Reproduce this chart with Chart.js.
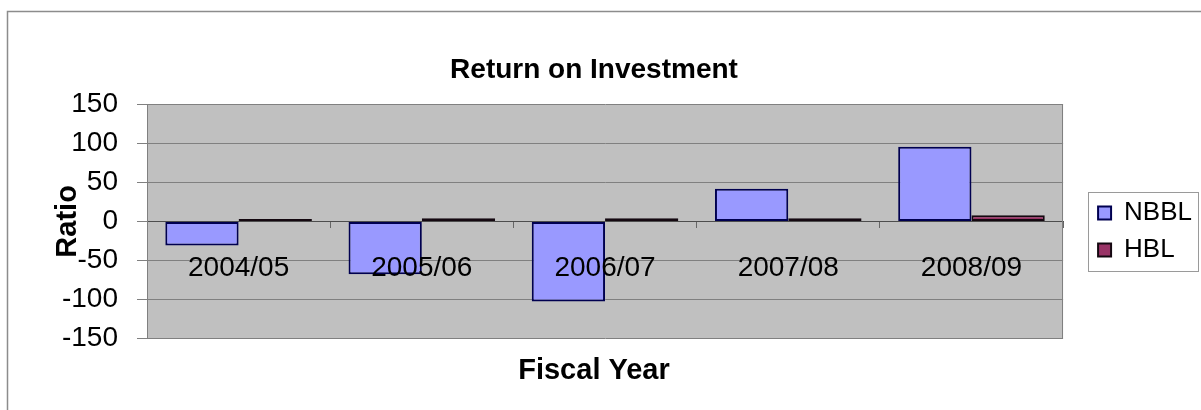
<!DOCTYPE html>
<html>
<head>
<meta charset="utf-8">
<title>Return on Investment</title>
<script src="https://cdn.jsdelivr.net/npm/chart.js@4/dist/chart.umd.min.js"></script>
<style>
  html, body { margin: 0; padding: 0; background: #fff; }
</style>
</head>
<body>
<canvas id="roiChart" width="1201" height="410"></canvas>
<script>
// Fiscal years and return on investment ratios for both banks
const years = ["2004/05", "2005/06", "2006/07", "2007/08", "2008/09"];
const nbblRatio = [-31, -68, -103, 42, 96];
const hblRatio = [3, 4, 4, 4, 8];
const ratioTicks = [-150, -100, -50, 0, 50, 100, 150];

Chart.defaults.font.family = "Arial, 'Liberation Sans', sans-serif";
Chart.defaults.color = "#000";

// White page with outer frame, grey plot area behind the grid
const chartFrame = {
    id: "chartFrame",
    beforeDraw(chart) {
        const ctx = chart.ctx;
        const a = chart.chartArea;
        ctx.save();
        ctx.fillStyle = "#fff";
        ctx.fillRect(0, 0, chart.width, chart.height);
        ctx.strokeStyle = "#8c8c8c";
        ctx.lineWidth = 1.5;
        ctx.strokeRect(7.5, 11.5, chart.width + 10, chart.height + 10);
        ctx.fillStyle = "#c0c0c0";
        ctx.fillRect(a.left, a.top, a.right - a.left, a.bottom - a.top);
        ctx.restore();
    },
    beforeDatasetsDraw(chart) {
        const ctx = chart.ctx;
        const a = chart.chartArea;
        ctx.save();
        ctx.strokeStyle = "#808080";
        ctx.lineWidth = 1;
        ctx.beginPath();
        ctx.moveTo(Math.round(a.right) - 0.5, a.top);
        ctx.lineTo(Math.round(a.right) - 0.5, a.bottom);
        ctx.stroke();
        ctx.restore();
    }
};

// Moves the legend away from the plot and puts a box round it
const legendBox = {
    id: "legendBox",
    afterLayout(chart) {
        const lg = chart.legend;
        lg.left += 24;
        lg.right += 24;
        lg.top += 10;
        lg.bottom += 10;
    },
    afterDraw(chart) {
        const hb = chart.legend.legendHitBoxes;
        if (!hb || !hb.length) return;
        const left = Math.min(...hb.map(b => b.left)) - 10;
        const right = Math.max(...hb.map(b => b.left + b.width)) + 6;
        const top = hb[0].top - 8;
        const last = hb[hb.length - 1];
        const bottom = last.top + last.height + 8;
        const ctx = chart.ctx;
        ctx.save();
        ctx.strokeStyle = "#9a9a9a";
        ctx.lineWidth = 1;
        ctx.strokeRect(Math.round(left) + 0.5, Math.round(top) + 0.5, Math.round(right - left), Math.round(bottom - top));
        ctx.restore();
    }
};

const roiChart = new Chart(document.getElementById("roiChart"), {
    type: "bar",
    data: {
        labels: years,
        datasets: [{
            label: "NBBL",
            data: nbblRatio,
            backgroundColor: "#9999ff",
            borderColor: "#000050",
            borderWidth: 2,
            borderSkipped: false
        }, {
            label: "HBL",
            data: hblRatio,
            backgroundColor: "#993366",
            borderColor: "#140810",
            borderWidth: 2,
            borderSkipped: false
        }]
    },
    options: {
        responsive: false,
        animation: false,
        events: [],
        categoryPercentage: 0.8,
        barPercentage: 1.0,
        layout: {
            padding: { left: 10, right: 23, top: 0, bottom: 0 }
        },
        scales: {
            x: {
                position: { y: 0 },
                grid: {
                    display: true,
                    drawOnChartArea: false,
                    drawTicks: true,
                    tickLength: 6,
                    color: "#666"
                },
                border: { display: true, color: "#4d4d4d", width: 1 },
                ticks: {
                    z: 1,
                    font: { size: 28 },
                    padding: 24,
                    maxRotation: 0,
                    autoSkip: false
                }
            },
            y: {
                min: Math.min(...ratioTicks),
                max: Math.max(...ratioTicks),
                afterBuildTicks(scale) {
                    scale.ticks = ratioTicks.map(v => ({ value: v }));
                },
                afterFit(scale) {
                    scale.width = 137;
                },
                grid: {
                    color: "#808080",
                    lineWidth: 1,
                    tickLength: 10
                },
                border: { display: true, color: "#808080" },
                ticks: {
                    font: { size: 28 },
                    padding: 19
                },
                title: {
                    display: true,
                    text: "Ratio",
                    font: { size: 29, weight: "bold" },
                    padding: { top: 41, bottom: 0 }
                }
            }
        },
        plugins: {
            title: {
                display: true,
                text: "Return on Investment",
                font: { size: 28, weight: "bold" },
                padding: { top: 53, bottom: 18 }
            },
            subtitle: {
                display: true,
                position: "bottom",
                text: "Fiscal Year",
                font: { size: 29, weight: "bold" },
                padding: { top: 15, bottom: 22 }
            },
            legend: {
                position: "right",
                fullSize: false,
                labels: {
                    font: { size: 26 },
                    boxWidth: 13,
                    boxHeight: 13,
                    padding: 11
                }
            },
            tooltip: { enabled: false }
        }
    },
    plugins: [chartFrame, legendBox]
});
</script>
</body>
</html>
